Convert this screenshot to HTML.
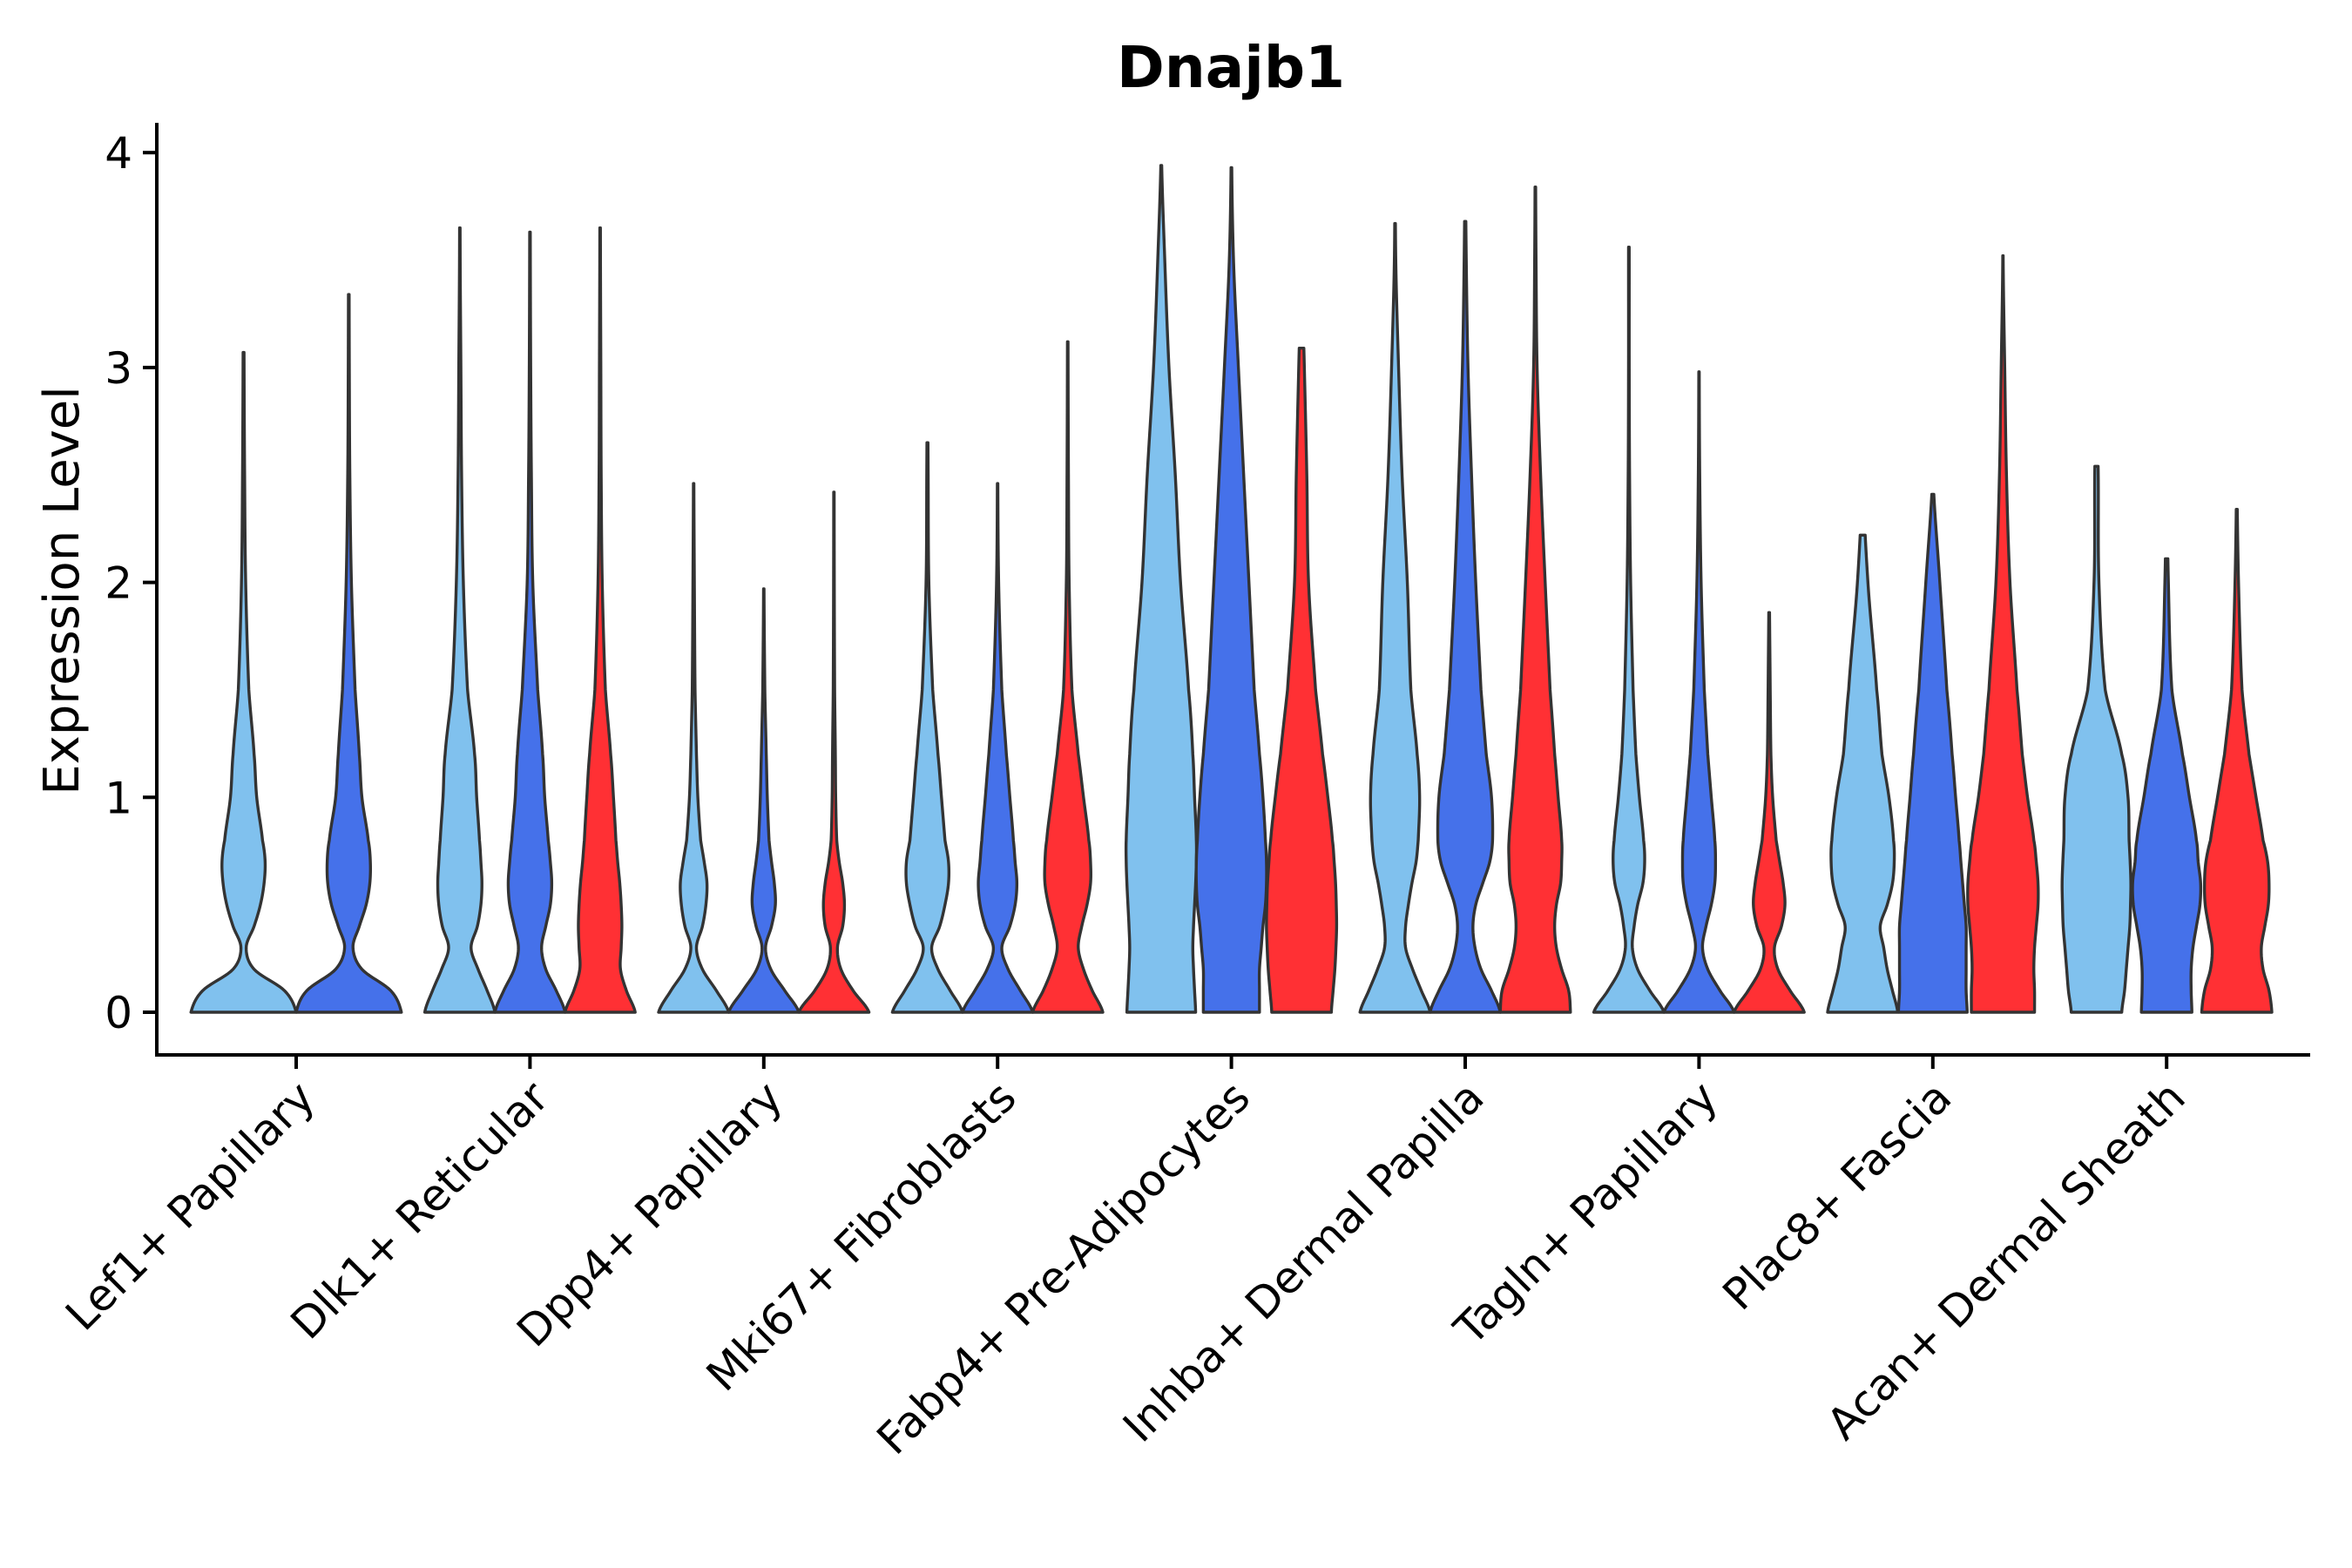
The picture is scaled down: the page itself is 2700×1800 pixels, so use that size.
<!DOCTYPE html>
<html><head><meta charset="utf-8">
<style>
html,body{margin:0;padding:0;background:#fff;}
svg{display:block;}
text{font-family:"DejaVu Sans","Liberation Sans",sans-serif;fill:#000;}
</style></head>
<body>
<svg id="chart" width="2700" height="1800" viewBox="0 0 2700 1800" xmlns="http://www.w3.org/2000/svg">
  <rect width="2700" height="1800" fill="#fff"/>
  <text x="1413" y="100" font-size="66" font-weight="bold" text-anchor="middle">Dnajb1</text>
  <text transform="translate(90,678) rotate(-90)" font-size="56" text-anchor="middle">Expression Level</text>
  <g id="violins"></g>
  <g id="axes"></g>
</svg>
<script>
const categories = ["Lef1+ Papillary","Dlk1+ Reticular","Dpp4+ Papillary","Mki67+ Fibroblasts","Fabp4+ Pre-Adipocytes","Inhba+ Dermal Papilla","Tagln+ Papillary","Plac8+ Fascia","Acan+ Dermal Sheath"];
const seriesNames = ["group1","group2","group3"];
const seriesColors = ["#80c1ee","#4571ea","#ff3034"];
const yTicks = [0,1,2,3,4];
const knots = [0,0.1,0.2,0.3,0.4,0.5,0.6,0.7,0.8,1.0,1.2,1.5,2.0,2.5,3.0,3.5,4.0];
// max expression per violin [category][series]; null = absent
const maxValues = [
  [3.07,3.34,null],
  [3.65,3.63,3.65],
  [2.46,1.97,2.42],
  [2.65,2.46,3.12],
  [3.94,3.93,3.09],
  [3.67,3.68,3.84],
  [3.56,2.98,1.86],
  [2.22,2.41,3.52],
  [2.54,2.11,2.34]
];
// relative density widths at knots
const densities = [
  [[1,0.78,0.2,0.05,0.2,0.32,0.39,0.41,0.36,0.25,0.2,0.1,0.04,0.02,0.01],
   [1,0.8,0.25,0.08,0.2,0.33,0.4,0.41,0.37,0.25,0.2,0.12,0.05,0.02,0.01],
   null],
  [[1,0.78,0.52,0.32,0.5,0.6,0.63,0.6,0.56,0.48,0.42,0.22,0.1,0.05,0.03,0.01],
   [1,0.75,0.45,0.33,0.45,0.58,0.62,0.58,0.52,0.42,0.36,0.22,0.08,0.04,0.02,0.01],
   [1,0.75,0.58,0.6,0.62,0.6,0.56,0.5,0.45,0.38,0.3,0.15,0.06,0.03,0.02,0.01]],
  [[1,0.65,0.25,0.08,0.25,0.35,0.38,0.3,0.2,0.12,0.08,0.04,0.02],
   [1,0.6,0.2,0.05,0.22,0.33,0.3,0.22,0.15,0.1,0.07,0.03],
   [1,0.55,0.2,0.1,0.25,0.3,0.25,0.15,0.08,0.05,0.04,0.02,0.01]],
  [[1,0.65,0.3,0.12,0.35,0.5,0.6,0.6,0.5,0.4,0.3,0.15,0.04,0.02],
   [1,0.65,0.3,0.12,0.35,0.5,0.55,0.5,0.45,0.35,0.25,0.12,0.03],
   [1,0.7,0.45,0.3,0.4,0.55,0.65,0.65,0.6,0.45,0.3,0.12,0.04,0.02,0.01]],
  [[0.98,0.95,0.92,0.9,0.92,0.95,0.98,1,1,0.95,0.9,0.78,0.55,0.4,0.22,0.1],
   [0.8,0.8,0.8,0.85,0.9,0.97,1,1,0.97,0.9,0.8,0.65,0.5,0.35,0.2,0.06],
   [0.85,0.9,0.95,0.98,1,0.99,0.97,0.93,0.88,0.75,0.6,0.4,0.2,0.15,0.08]],
  [[1,0.75,0.5,0.3,0.3,0.38,0.48,0.6,0.66,0.7,0.63,0.45,0.35,0.2,0.1,0.02],
   [1,0.75,0.45,0.28,0.22,0.3,0.5,0.7,0.78,0.75,0.6,0.45,0.3,0.18,0.08,0.03],
   [1,0.95,0.75,0.6,0.55,0.6,0.72,0.75,0.75,0.65,0.55,0.42,0.28,0.15,0.05,0.02]],
  [[1,0.6,0.25,0.1,0.15,0.25,0.4,0.45,0.42,0.3,0.2,0.12,0.05,0.02,0.01,0.01],
   [1,0.6,0.25,0.1,0.2,0.35,0.45,0.47,0.45,0.35,0.25,0.15,0.06,0.02],
   [1,0.6,0.25,0.15,0.35,0.45,0.4,0.3,0.2,0.1,0.05,0.03]],
  [[1,0.85,0.7,0.6,0.5,0.7,0.85,0.9,0.88,0.75,0.55,0.4,0.15],
   [0.98,0.95,0.95,0.95,0.95,0.9,0.85,0.8,0.75,0.65,0.55,0.4,0.2],
   [0.9,0.9,0.88,0.9,0.95,1,1,0.95,0.88,0.7,0.55,0.4,0.2,0.1,0.05]],
  [[0.72,0.8,0.85,0.9,0.95,0.97,0.98,0.96,0.93,0.9,0.72,0.25,0.07,0.05],
   [0.72,0.7,0.7,0.75,0.85,0.95,0.97,0.9,0.85,0.65,0.45,0.15,0.05],
   [1,0.92,0.75,0.7,0.8,0.9,0.92,0.88,0.75,0.55,0.35,0.15,0.05]]
];

const NS = "http://www.w3.org/2000/svg";
const X0 = 340, XSTEP = 268.4, Y0 = 1162, YUNIT = 246.7;
const AX_LEFT = 180, AX_BOTTOM = 1211, AX_TOP = 141, AX_RIGHT = 2652;
function xScale(i){ return X0 + i*XSTEP; }
function yScale(v){ return Y0 - v*YUNIT; }

function dens(arr, y){
  const n = arr.length;
  const val = k => k < n ? arr[k] : 0.006;
  let k = 0;
  while (k < knots.length-2 && y > knots[k+1]) k++;
  const t = (y - knots[k])/(knots[k+1]-knots[k]);
  const p0 = val(Math.max(0,k-1)), p1 = val(k), p2 = val(k+1), p3 = val(Math.min(knots.length-1,k+2));
  const t2=t*t, t3=t2*t;
  let v = 0.5*((2*p1)+(-p0+p2)*t+(2*p0-5*p1+4*p2-p3)*t2+(-p0+3*p1-3*p2+p3)*t3);
  return Math.max(0.006, Math.min(1.02, v));
}

const vg = document.getElementById('violins');
categories.forEach((cat, ci) => {
  const present = maxValues[ci].map((m,si)=>m!==null?si:-1).filter(s=>s>=0);
  const nv = present.length;
  const slot = 0.9*XSTEP/nv;
  const half = slot/2;
  present.forEach((si, pi) => {
    const cx = xScale(ci) - 0.45*XSTEP + slot*(pi+0.5);
    const ymax = maxValues[ci][si];
    const arr = densities[ci][si];
    const steps = Math.ceil(ymax/0.01);
    const right = [], left = [];
    for (let s=0; s<=steps; s++){
      const y = Math.min(ymax, s*0.01);
      const w = dens(arr, y)*half;
      right.push((cx+w).toFixed(2)+","+yScale(y).toFixed(2));
      left.unshift((cx-w).toFixed(2)+","+yScale(y).toFixed(2));
    }
    const p = document.createElementNS(NS,'path');
    p.setAttribute('d', "M"+right.join("L")+"L"+left.join("L")+"Z");
    p.setAttribute('fill', seriesColors[si]);
    p.setAttribute('stroke', '#333333');
    p.setAttribute('stroke-width', '3.4');
    p.setAttribute('stroke-linejoin', 'round');
    
    
    vg.appendChild(p);
  });
});

const ag = document.getElementById('axes');
function line(x1,y1,x2,y2,name){
  const l = document.createElementNS(NS,'line');
  l.setAttribute('x1',x1); l.setAttribute('y1',y1); l.setAttribute('x2',x2); l.setAttribute('y2',y2);
  l.setAttribute('stroke','#000'); l.setAttribute('stroke-width','4');
  
  
  ag.appendChild(l);
}
line(AX_LEFT, AX_TOP, AX_LEFT, AX_BOTTOM+2, 'y-axis-line');
line(AX_LEFT-2, AX_BOTTOM, AX_RIGHT, AX_BOTTOM, 'x-axis-line');
yTicks.forEach(v => {
  line(AX_LEFT-16, yScale(v), AX_LEFT, yScale(v), 'y-tick');
  const t = document.createElementNS(NS,'text');
  t.setAttribute('x', AX_LEFT-28); t.setAttribute('y', yScale(v)+18);
  t.setAttribute('font-size','50'); t.setAttribute('text-anchor','end');
  t.textContent = v;
  
  
  ag.appendChild(t);
});
categories.forEach((cat, ci) => {
  const x = xScale(ci);
  line(x, AX_BOTTOM, x, AX_BOTTOM+16, 'x-tick');
  const t = document.createElementNS(NS,'text');
  t.setAttribute('transform', 'translate(' + (x+24) + ',' + (AX_BOTTOM+52) + ') rotate(-45)');
  t.setAttribute('font-size','50'); t.setAttribute('text-anchor','end');
  t.textContent = cat;
  
  
  ag.appendChild(t);
});
</script>
</body></html>
